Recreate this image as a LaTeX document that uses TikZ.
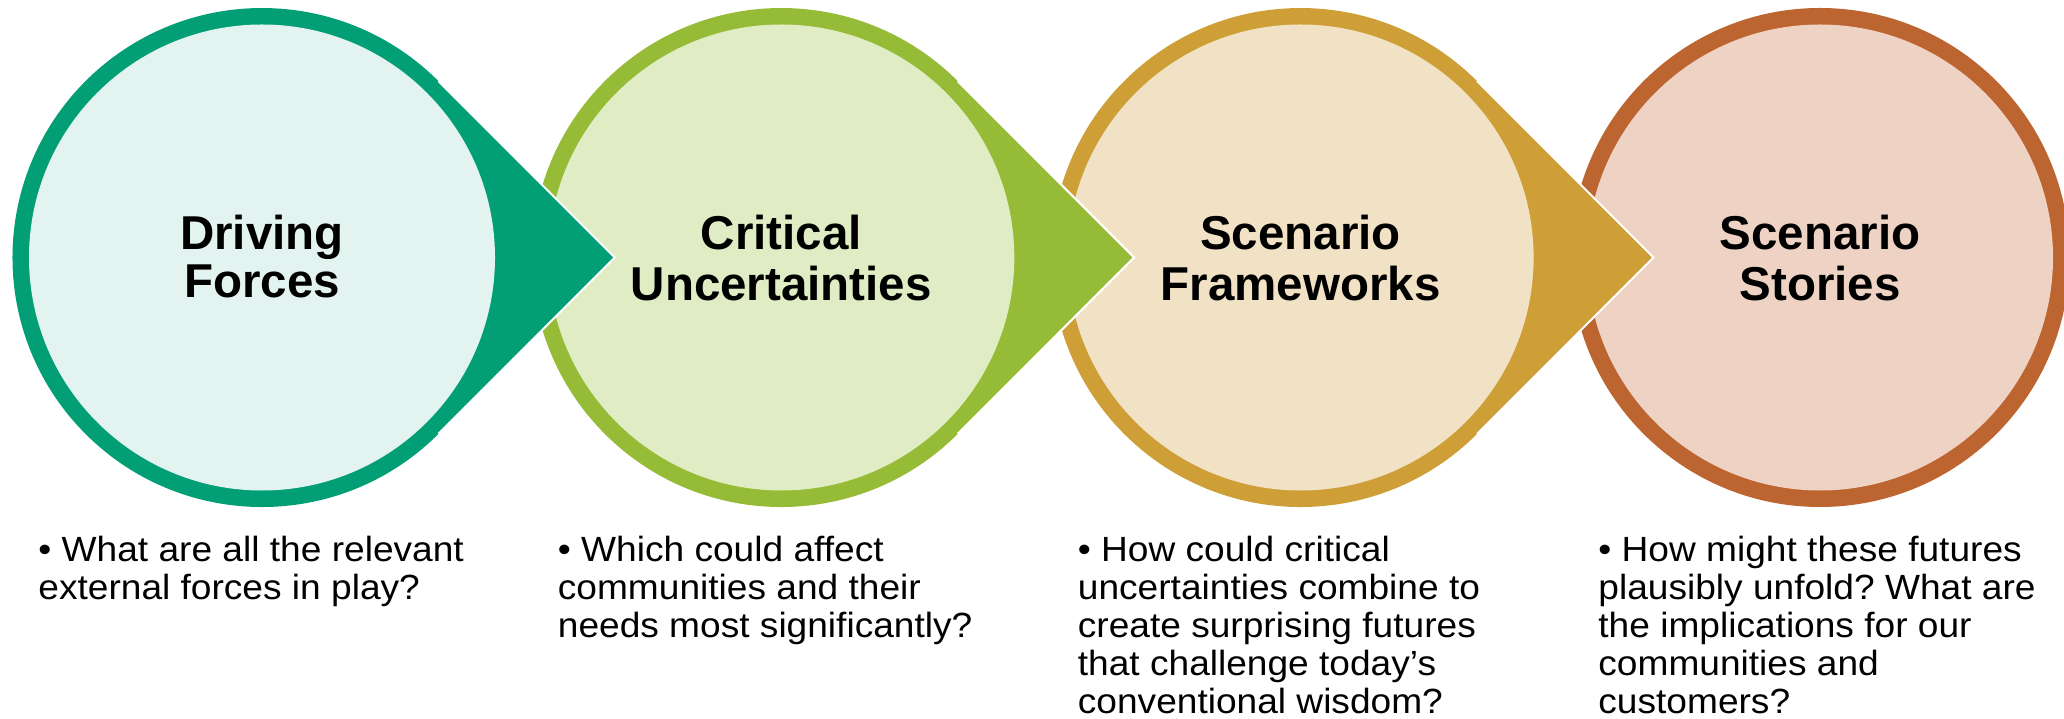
\documentclass[tikz,border=0pt]{standalone}
\usepackage{fontspec}
\setmainfont{Liberation Sans}
\newfontfamily\headfont{Liberation Sans}
\newfontfamily\bodyfont[FakeStretch=1.06]{Liberation Sans}
\definecolor{tealD}{RGB}{2,159,118}
\definecolor{tealL}{RGB}{227,244,240}
\definecolor{oliveD}{RGB}{150,187,55}
\definecolor{oliveL}{RGB}{224,237,196}
\definecolor{goldD}{RGB}{206,159,55}
\definecolor{goldL}{RGB}{241,226,198}
\definecolor{rustD}{RGB}{189,101,48}
\definecolor{rustL}{RGB}{238,210,196}
\frenchspacing
\begin{document}
\begin{tikzpicture}[x=0.5pt,y=0.5pt,
  titletext/.style={font=\headfont\bfseries\fontsize{23.75pt}{24.25pt}\selectfont, align=center, anchor=north, inner sep=0pt, text=black},
  bodytext/.style={font=\bodyfont\fontsize{17.5pt}{19pt}\selectfont, align=left, anchor=north west, inner sep=0pt, text=black},
  tipedge/.style={draw=white, line width=1pt, line join=miter}]
\clip (0,0) rectangle (2064,718);
% centres
\coordinate (c1) at (262,460.5);
\coordinate (c2) at (781.3,460.5);
\coordinate (c3) at (1300.6,460.5);
\coordinate (c4) at (1820,460.5);
% tips and tangent points
\foreach \k/\cx in {1/262,2/781.3,3/1300.6}{
  \coordinate (t\k) at (\cx+352.8,460.5);
  \coordinate (a\k) at (\cx+176.4,636.9);
  \coordinate (b\k) at (\cx+176.4,284.1);
}
% shape 4
\fill[rustD] (c4) circle[radius=249.5];
\fill[rustL] (c4) circle[radius=233];
% shape 3
\fill[goldD] (t3) -- (a3) arc[start angle=45,end angle=315,radius=249.5] -- cycle;
\draw[tipedge] (a3) -- (t3) -- (b3);
\fill[goldL] (c3) circle[radius=233];
% shape 2
\fill[oliveD] (t2) -- (a2) arc[start angle=45,end angle=315,radius=249.5] -- cycle;
\draw[tipedge] (a2) -- (t2) -- (b2);
\fill[oliveL] (c2) circle[radius=233];
% shape 1
\fill[tealD] (t1) -- (a1) arc[start angle=45,end angle=315,radius=249.5] -- cycle;
\draw[tipedge] (a1) -- (t1) -- (b1);
\fill[tealL] (c1) circle[radius=233];
% titles
\node[titletext] (h1) at (262,503.65) {\strut Driving\\Forces};
\node[titletext] (h2) at (781.3,503.65) {\strut Critical\\Uncertainties};
\node[titletext] (h3) at (1300.6,503.65) {\strut Scenario\\Frameworks};
\node[titletext] (h4) at (1820,503.65) {\strut Scenario\\Stories};
% questions
\node[bodytext] (q1) at (38,183.6) {\strut • What are all the relevant\\external forces in play?};
\node[bodytext] (q2) at (557.5,183.6) {\strut • Which could affect\\communities and their\\needs most significantly?};
\node[bodytext] (q3) at (1077.5,183.6) {\strut • How could critical\\uncertainties combine to\\create surprising futures\\that challenge today’s\\conventional wisdom?};
\node[bodytext] (q4) at (1598,183.6) {\strut • How might these futures\\plausibly unfold? What are\\the implications for our\\communities and\\customers?};
\end{tikzpicture}
\end{document}
